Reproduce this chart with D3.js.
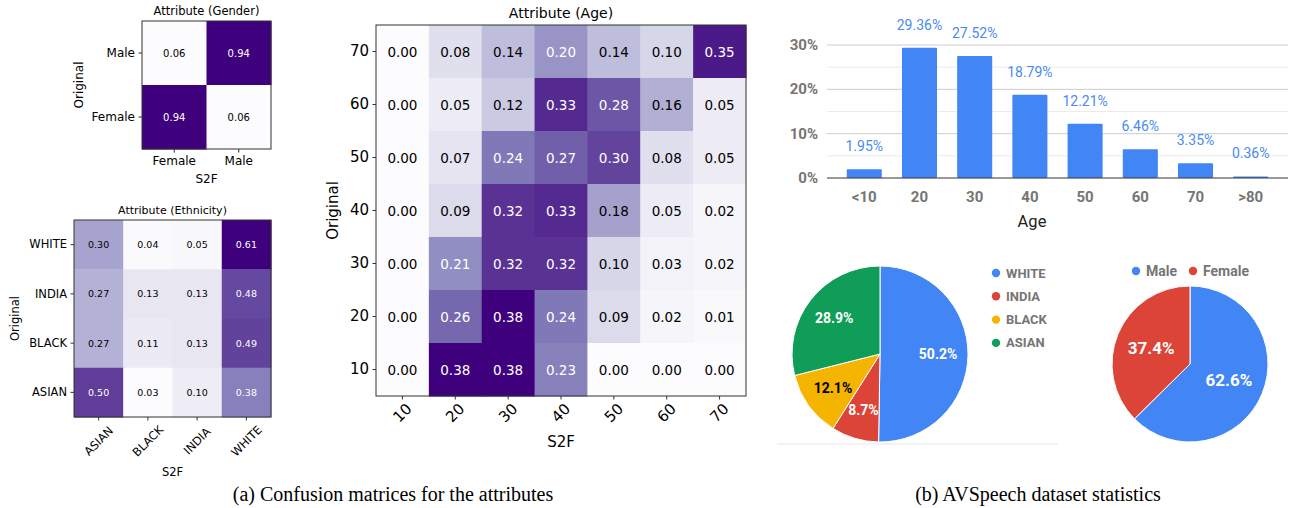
<!DOCTYPE html>
<html>
<head>
<meta charset="utf-8">
<script src="https://cdn.jsdelivr.net/npm/d3@7"></script>
<style>
  body { margin: 0; background: #fff; }
  svg { display: block; }
  .mpl text { font-family: "DejaVu Sans", sans-serif; fill: #000; }
  .gc text { font-family: Roboto, "Noto Sans", sans-serif; }
  .cap { font-family: "Liberation Serif", "Times New Roman", serif; font-size: 20px; fill: #000; }
</style>
</head>
<body>
<div id="chart"></div>
<script>
// ---- confusion matrices (rows = Original, listed top to bottom) ----
var genderCols = ["Female", "Male"];
var genderRows = ["Male", "Female"];
var genderMatrix = [
    [0.06, 0.94],
    [0.94, 0.06]
];

var ethnCols = ["ASIAN", "BLACK", "INDIA", "WHITE"];
var ethnRows = ["WHITE", "INDIA", "BLACK", "ASIAN"];
var ethnMatrix = [
    [0.30, 0.04, 0.05, 0.61],
    [0.27, 0.13, 0.13, 0.48],
    [0.27, 0.11, 0.13, 0.49],
    [0.50, 0.03, 0.10, 0.38]
];

var ageCols = ["10", "20", "30", "40", "50", "60", "70"];
var ageRows = ["70", "60", "50", "40", "30", "20", "10"];
var ageMatrix = [
    [0.00, 0.08, 0.14, 0.20, 0.14, 0.10, 0.35],
    [0.00, 0.05, 0.12, 0.33, 0.28, 0.16, 0.05],
    [0.00, 0.07, 0.24, 0.27, 0.30, 0.08, 0.05],
    [0.00, 0.09, 0.32, 0.33, 0.18, 0.05, 0.02],
    [0.00, 0.21, 0.32, 0.32, 0.10, 0.03, 0.02],
    [0.00, 0.26, 0.38, 0.24, 0.09, 0.02, 0.01],
    [0.00, 0.38, 0.38, 0.23, 0.00, 0.00, 0.00]
];

// ---- AVSpeech statistics ----
var ageBins = ["<10", "20", "30", "40", "50", "60", "70", ">80"];
var agePercent = [1.95, 29.36, 27.52, 18.79, 12.21, 6.46, 3.35, 0.36];
var ageTicks = [0, 10, 20, 30];
var ageMinorTicks = [5, 15, 25];

var ethnNames = ["WHITE", "INDIA", "BLACK", "ASIAN"];
var ethnShare = [50.2, 8.7, 12.1, 28.9];
var ethnColors = ["#4285f4", "#db4437", "#f4b400", "#0f9d58"];

var genderNames = ["Male", "Female"];
var genderShare = [62.6, 37.4];
var genderColors = ["#4285f4", "#db4437"];

var W = 1302, H = 508;
var svg = d3.select("#chart").append("svg").attr("width", W).attr("height", H);

// draws one matplotlib-like confusion matrix
function drawMatrix(o) {
    var g = svg.append("g").attr("class", "mpl");
    var x = d3.scaleBand().domain(o.cols).range([o.x, o.x + o.w]);
    var y = d3.scaleBand().domain(o.rows).range([o.y, o.y + o.h]);
    var flat = o.data.flat();
    var vmin = d3.min(flat), vmax = d3.max(flat);
    var color = d3.scaleSequential(d3.interpolatePurples).domain([vmin, vmax]);
    var thresh = (vmin + vmax) / 2;

    var cells = [];
    o.data.forEach((row, i) => row.forEach((v, j) => cells.push({ r: o.rows[i], c: o.cols[j], v: v })));

    g.selectAll("rect.cell").data(cells).enter().append("rect")
        .attr("class", "cell")
        .attr("x", d => x(d.c)).attr("y", d => y(d.r))
        .attr("width", x.bandwidth() + 0.5).attr("height", y.bandwidth() + 0.5)
        .attr("fill", d => color(d.v));

    g.selectAll("text.val").data(cells).enter().append("text")
        .attr("class", "val")
        .attr("x", d => x(d.c) + x.bandwidth() / 2)
        .attr("y", d => y(d.r) + y.bandwidth() / 2)
        .attr("text-anchor", "middle").attr("dominant-baseline", "central")
        .style("font-size", o.cellFont + "px")
        .style("fill", d => d.v > thresh ? "#fff" : "#000")
        .text(d => d.v.toFixed(2));

    g.append("rect")
        .attr("x", o.x).attr("y", o.y).attr("width", o.w).attr("height", o.h)
        .attr("fill", "none").attr("stroke", "#333").attr("stroke-width", 1);

    // y axis
    var ya = g.append("g").attr("transform", "translate(" + o.x + ",0)")
        .call(d3.axisLeft(y).tickSize(3.5).tickPadding(3.5).tickSizeOuter(0));
    ya.select(".domain").remove();
    ya.selectAll("line").attr("stroke", "#333");
    ya.selectAll("text").style("font-size", o.tickFont + "px").attr("fill", "#000");

    // x axis
    var xa = g.append("g").attr("transform", "translate(0," + (o.y + o.h) + ")")
        .call(d3.axisBottom(x).tickSize(3.5).tickPadding(3.5).tickSizeOuter(0));
    xa.select(".domain").remove();
    xa.selectAll("line").attr("stroke", "#333");
    xa.selectAll("text").style("font-size", o.tickFont + "px").attr("fill", "#000");
    if (o.rotate) {
        xa.selectAll("text")
            .attr("dy", null)
            .attr("y", o.rotOff)
            .attr("dominant-baseline", "central")
            .attr("text-anchor", "middle")
            .attr("transform", "rotate(-45 0 " + o.rotOff + ")");
    }

    g.append("text")
        .attr("x", o.x + o.w / 2).attr("y", o.titleY)
        .attr("text-anchor", "middle").attr("dominant-baseline", "central")
        .style("font-size", o.titleFont + "px").text(o.title);
    g.append("text")
        .attr("x", o.x + o.w / 2).attr("y", o.xlabY)
        .attr("text-anchor", "middle").attr("dominant-baseline", "central")
        .style("font-size", o.tickFont + "px").text("S2F");
    g.append("text")
        .attr("transform", "translate(" + o.ylabX + "," + (o.y + o.h / 2) + ") rotate(-90)")
        .attr("text-anchor", "middle").attr("dominant-baseline", "central")
        .style("font-size", o.tickFont + "px").text("Original");
}

drawMatrix({ title: "Attribute (Gender)", cols: genderCols, rows: genderRows, data: genderMatrix,
    x: 142, y: 21, w: 129, h: 128, titleY: 11, xlabY: 179, ylabX: 79,
    cellFont: 10, tickFont: 12, titleFont: 11.5 });

drawMatrix({ title: "Attribute (Ethnicity)", cols: ethnCols, rows: ethnRows, data: ethnMatrix,
    x: 74, y: 220, w: 197, h: 197, titleY: 210, xlabY: 472, ylabX: 15,
    cellFont: 9.5, tickFont: 11.5, titleFont: 11, rotate: true, rotOff: 24 });

drawMatrix({ title: "Attribute (Age)", cols: ageCols, rows: ageRows, data: ageMatrix,
    x: 376, y: 25, w: 370, h: 371, titleY: 13, xlabY: 442, ylabX: 333,
    cellFont: 13.5, tickFont: 15, titleFont: 14, rotate: true, rotOff: 17 });

// ---- bar chart: age distribution ----
var bar = svg.append("g").attr("class", "gc");
var bx = d3.scaleBand().domain(ageBins).range([827, 1288]).paddingInner(0.365).paddingOuter(0.3575);
var by = d3.scaleLinear().domain([0, 30]).range([178, 45]);

bar.selectAll("line.minor").data(ageMinorTicks).enter().append("line")
    .attr("x1", 827).attr("x2", 1288).attr("y1", d => by(d)).attr("y2", d => by(d))
    .attr("stroke", "#ebebeb");
bar.selectAll("line.major").data(ageTicks.filter(d => d > 0)).enter().append("line")
    .attr("x1", 827).attr("x2", 1288).attr("y1", d => by(d)).attr("y2", d => by(d))
    .attr("stroke", "#cccccc");
bar.selectAll("text.ytick").data(ageTicks).enter().append("text")
    .attr("x", 818).attr("y", d => by(d))
    .attr("text-anchor", "end").attr("dominant-baseline", "central")
    .style("font-size", "15px").style("font-weight", "bold").attr("fill", "#757575")
    .text(d => d + "%");

bar.selectAll("rect.bar").data(agePercent).enter().append("rect")
    .attr("x", (d, i) => bx(ageBins[i])).attr("width", bx.bandwidth())
    .attr("y", d => by(d)).attr("height", d => by(0) - by(d))
    .attr("rx", 1).attr("fill", "#4285f4");

bar.append("line").attr("x1", 827).attr("x2", 1288).attr("y1", by(0)).attr("y2", by(0))
    .attr("stroke", "#333");

bar.selectAll("text.val").data(agePercent).enter().append("text")
    .attr("x", (d, i) => bx(ageBins[i]) + bx.bandwidth() / 2)
    .attr("y", d => by(d) - 23)
    .attr("text-anchor", "middle").attr("dominant-baseline", "central")
    .style("font-size", "14px").attr("fill", "#4a8af4")
    .text(d => d.toFixed(2) + "%");

bar.selectAll("text.xtick").data(ageBins).enter().append("text")
    .attr("x", d => bx(d) + bx.bandwidth() / 2).attr("y", 197)
    .attr("text-anchor", "middle").attr("dominant-baseline", "central")
    .style("font-size", "15px").style("font-weight", "bold").attr("fill", "#757575")
    .text(d => d);

bar.append("text").attr("x", 1032).attr("y", 221)
    .attr("text-anchor", "middle").attr("dominant-baseline", "central")
    .style("font-size", "16.5px").attr("fill", "#222").text("Age");

// ---- pies ----
function drawPie(o) {
    var g = svg.append("g").attr("class", "gc")
        .attr("transform", "translate(" + o.cx + "," + o.cy + ")");
    var items = o.names.map((n, i) => ({ name: n, v: o.values[i], c: o.colors[i] }));
    var arcs = d3.pie().sort(null).value(d => d.v)(items);
    var arc = d3.arc().innerRadius(0).outerRadius(o.r);
    var lab = d3.arc().innerRadius(o.r * o.lr).outerRadius(o.r * o.lr);

    g.selectAll("path").data(arcs).enter().append("path")
        .attr("d", arc).attr("fill", d => d.data.c)
        .attr("stroke", "#fff").attr("stroke-width", 1);

    g.selectAll("text").data(arcs).enter().append("text")
        .attr("transform", d => "translate(" + lab.centroid(d) + ")")
        .attr("text-anchor", "middle").attr("dominant-baseline", "central")
        .style("font-size", o.font + "px").style("font-weight", "bold")
        .attr("fill", d => d.data.c === "#f4b400" ? "#000" : "#fff")
        .text(d => d.data.v.toFixed(1) + "%");
}

drawPie({ names: ethnNames, values: ethnShare, colors: ethnColors,
    cx: 880, cy: 354, r: 88, lr: 0.66, font: 14 });
drawPie({ names: genderNames, values: genderShare, colors: genderColors,
    cx: 1190, cy: 364, r: 78, lr: 0.54, font: 17 });

svg.append("line").attr("x1", 777).attr("x2", 1058).attr("y1", 444).attr("y2", 444)
    .attr("stroke", "#e6e6e6");

// legends
var leg1 = svg.append("g").attr("class", "gc");
leg1.selectAll("circle").data(ethnNames).enter().append("circle")
    .attr("cx", 996).attr("cy", (d, i) => 273 + i * 23.3).attr("r", 4.2)
    .attr("fill", (d, i) => ethnColors[i]);
leg1.selectAll("text").data(ethnNames).enter().append("text")
    .attr("x", 1006).attr("y", (d, i) => 273 + i * 23.3)
    .attr("dominant-baseline", "central")
    .style("font-size", "13px").style("font-weight", "bold").attr("fill", "#757575")
    .text(d => d);

var legX = [1136, 1193];
var leg2 = svg.append("g").attr("class", "gc");
leg2.selectAll("circle").data(genderNames).enter().append("circle")
    .attr("cx", (d, i) => legX[i]).attr("cy", 271).attr("r", 4.2)
    .attr("fill", (d, i) => genderColors[i]);
leg2.selectAll("text").data(genderNames).enter().append("text")
    .attr("x", (d, i) => legX[i] + 10).attr("y", 271)
    .attr("dominant-baseline", "central")
    .style("font-size", "14px").style("font-weight", "bold").attr("fill", "#757575")
    .text(d => d);

// captions
svg.append("text").attr("class", "cap").attr("x", 393).attr("y", 494)
    .attr("text-anchor", "middle").attr("dominant-baseline", "central")
    .text("(a) Confusion matrices for the attributes");
svg.append("text").attr("class", "cap").attr("x", 1038).attr("y", 494)
    .attr("text-anchor", "middle").attr("dominant-baseline", "central")
    .text("(b) AVSpeech dataset statistics");
</script>
</body>
</html>
